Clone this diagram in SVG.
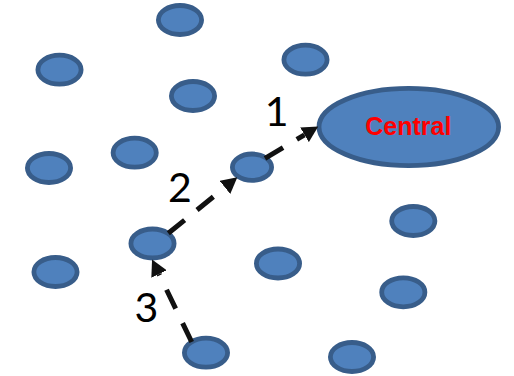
<svg xmlns="http://www.w3.org/2000/svg" width="514" height="376" viewBox="0 0 514 376">
<style>
.node ellipse{fill:#4F81BD;stroke:#385D8A;stroke-width:4.8}
.conn path{fill:none;stroke:#111;stroke-width:5;stroke-dasharray:21 16}
.lbl{font-family:Lato,"Liberation Sans",sans-serif;font-size:41px;fill:#000;text-anchor:middle}
.central{font-family:"Liberation Sans",Arial,sans-serif;font-weight:bold;font-size:25px;fill:#FF0000;text-anchor:middle}
</style>
<defs>
<marker id="ah" markerUnits="strokeWidth" markerWidth="3.2" markerHeight="3.4" refX="0" refY="1.7" orient="auto" viewBox="0 0 3.2 3.4">
<path d="M0,0 L3.2,1.7 L0,3.4 z" fill="#111"/>
</marker>
</defs>
<rect width="514" height="376" fill="#fff"/>
<g id="n1" class="node"><ellipse cx="180" cy="20" rx="21.6" ry="14.5"/></g>
<g id="n2" class="node"><ellipse cx="59.5" cy="69.7" rx="21.6" ry="14.5"/></g>
<g id="n3" class="node"><ellipse cx="305.5" cy="59.7" rx="21.6" ry="14.5"/></g>
<g id="n4" class="node"><ellipse cx="193" cy="96" rx="21.6" ry="14.5"/></g>
<g id="n5" class="node"><ellipse cx="134.7" cy="152.7" rx="21.6" ry="14.5"/></g>
<g id="n6" class="node"><ellipse cx="49" cy="168" rx="21.6" ry="14.5"/></g>
<g id="n7" class="node"><ellipse cx="252" cy="167.2" rx="19.6" ry="13.2"/></g>
<g id="n8" class="node"><ellipse cx="413.3" cy="221" rx="21.6" ry="14.5"/></g>
<g id="n9" class="node"><ellipse cx="152.5" cy="243.5" rx="21.6" ry="14.5"/></g>
<g id="n10" class="node"><ellipse cx="55.5" cy="272" rx="21.6" ry="14.5"/></g>
<g id="n11" class="node"><ellipse cx="278" cy="263.5" rx="21.6" ry="14.5"/></g>
<g id="n12" class="node"><ellipse cx="403.3" cy="292.3" rx="21.6" ry="14.5"/></g>
<g id="n13" class="node"><ellipse cx="206" cy="352.7" rx="21.6" ry="14.5"/></g>
<g id="n14" class="node"><ellipse cx="352" cy="357" rx="21.6" ry="14.5"/></g>
<g id="central" class="node">
<ellipse cx="408.8" cy="127" rx="89.8" ry="38.6"/>
<text class="central" x="408.3" y="134.5">Central</text>
</g>
<g id="connectors" class="conn">
<path d="M265,158.3 L304.5,134.8" marker-end="url(#ah)"/>
<path d="M168.3,233.3 L224.9,187.4" marker-end="url(#ah)"/>
<path d="M191.7,342 L159,274" marker-end="url(#ah)"/>
</g>
<g id="labels">
<text class="lbl" x="276.7" y="126">1</text>
<text class="lbl" x="180" y="201.7">2</text>
<text class="lbl" x="146.5" y="321.5">3</text>
</g>
</svg>
